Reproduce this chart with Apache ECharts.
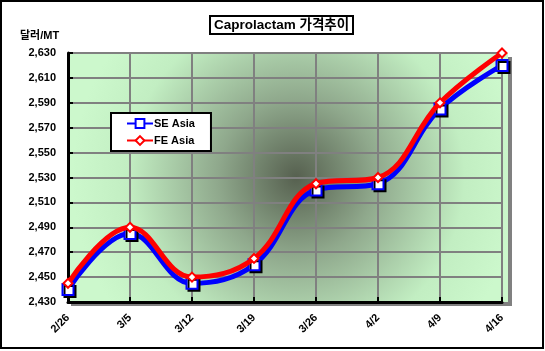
<!DOCTYPE html>
<html>
<head>
<meta charset="utf-8">
<script src="https://cdn.jsdelivr.net/npm/echarts@6/dist/echarts.min.js"></script>
<style>
  html, body { margin: 0; padding: 0; background: #fff; }
  #chart { width: 545px; height: 351px; }
</style>
</head>
<body>
<div id="chart"></div>
<script>
const weeks = ["2/26", "3/5", "3/12", "3/19", "3/26", "4/2", "4/9", "4/16"];
const seAsia = [2440, 2485, 2445, 2460, 2520, 2525, 2585, 2620];
const feAsia = [2445, 2490, 2450, 2465, 2525, 2530, 2590, 2630];

const chart = echarts.init(document.getElementById("chart"));
const bold = { fontFamily: "Arial, 'Liberation Sans', 'Noto Sans CJK KR'", fontWeight: "bold", color: "#000" };

chart.setOption({
  animation: false,
  title: {
    text: "Caprolactam 가격추이",
    left: 210,
    top: 16,
    padding: [3, 4, 2, 4],
    borderColor: "#000",
    borderWidth: 2,
    textStyle: Object.assign({}, bold, { fontSize: 13.5 })
  },
  graphic: [
    { type: "rect", z: -10, shape: { x: 1, y: 1, width: 542, height: 347 },
      style: { fill: "#fff", stroke: "#000", lineWidth: 2 } },
    { type: "rect", z: -9, shape: { x: 71, y: 57, width: 441, height: 249 },
      style: { fill: "#808080" } },
    { type: "rect", z: -8, shape: { x: 67, y: 53, width: 441, height: 249 },
      style: {
        fill: {
          type: "radial", x: 0.52, y: 0.5, r: 0.9,
          colorStops: [
            { offset: 0, color: "#56604f" },
            { offset: 0.35, color: "#8fa88c" },
            { offset: 0.75, color: "#c2eec2" },
            { offset: 1, color: "#ccf8cc" }
          ]
        }
      } },
    { type: "text", left: 20, top: 30,
      style: Object.assign({ text: "달러/MT", fontSize: 11, fill: "#000" }, { fontFamily: bold.fontFamily, fontWeight: "bold" }) }
  ],
  legend: {
    orient: "vertical",
    left: 111,
    top: 113,
    padding: [5, 16, 5, 15],
    itemWidth: 26,
    itemHeight: 11,
    itemGap: 6,
    backgroundColor: "#fff",
    borderColor: "#000",
    borderWidth: 2,
    textStyle: Object.assign({}, bold, { fontSize: 11, padding: [0, 0, 0, -4] }),
    data: ["SE Asia", "FE Asia"]
  },
  grid: { left: 68, right: 43, top: 53, bottom: 49 },
  xAxis: {
    type: "category",
    data: weeks,
    boundaryGap: false,
    axisLine: { show: true, lineStyle: { color: "#000", width: 3 } },
    axisTick: { show: true, inside: true, length: 5, lineStyle: { color: "#000", width: 2 } },
    splitLine: { show: true, lineStyle: { color: "#808080", width: 2 } },
    axisLabel: Object.assign({}, bold, { fontSize: 11, rotate: 45, margin: 14 })
  },
  yAxis: {
    type: "value",
    min: 2430,
    max: 2630,
    interval: 20,
    axisLine: { show: true, lineStyle: { color: "#000", width: 3 } },
    axisTick: { show: true, inside: true, length: 5, lineStyle: { color: "#000", width: 2 } },
    splitLine: { show: true, lineStyle: { color: "#808080", width: 2 } },
    axisLabel: Object.assign({}, bold, { fontSize: 11, margin: 12,
      formatter: v => v.toLocaleString("en-US") })
  },
  series: [
    {
      name: "SE Asia",
      type: "line",
      smooth: 0.4,
      data: seAsia,
      symbol: "rect",
      symbolSize: 11,
      lineStyle: { color: "#0000ff", width: 5 },
      itemStyle: { color: "#fff", borderColor: "#0000ff", borderWidth: 2,
        shadowColor: "#000", shadowOffsetX: 2, shadowOffsetY: 2 },
      z: 3
    },
    {
      name: "FE Asia",
      type: "line",
      smooth: 0.4,
      data: feAsia,
      symbol: "diamond",
      symbolSize: 9,
      lineStyle: { color: "#ff0000", width: 5 },
      itemStyle: { color: "#fff", borderColor: "#ff0000", borderWidth: 2 },
      z: 4
    }
  ]
});
</script>
</body>
</html>
